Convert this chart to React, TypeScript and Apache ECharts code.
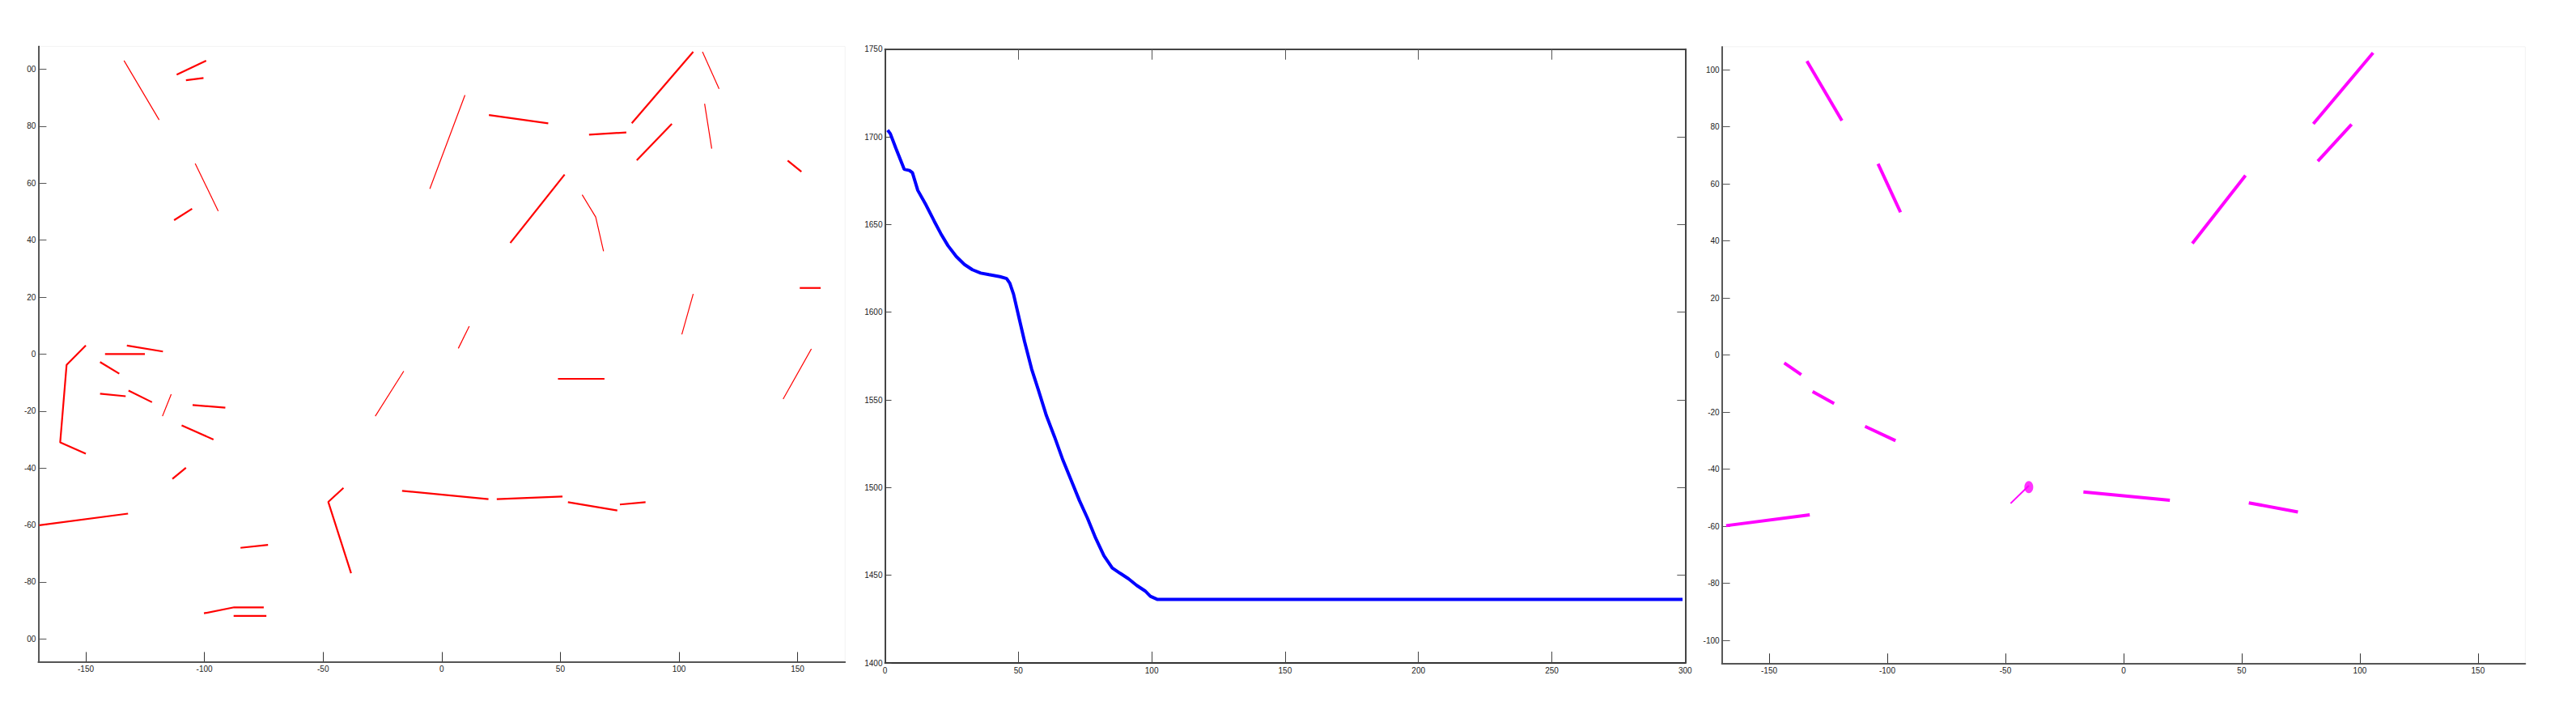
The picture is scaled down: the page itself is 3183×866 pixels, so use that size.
import React, { useEffect, useRef } from "react";
import * as echarts from "echarts";

// ---------- Panel 1: red line segments ----------
const redThinSegments: number[][][] = [
  [[-133.9, 103.0], [-119.1, 82.2]],
  [[-103.9, 66.9], [-94.2, 50.2]],
  [[-5.0, 58.0], [9.8, 90.9]],
  [[109.9, 106.1], [116.9, 93.1]],
  [[110.8, 87.9], [113.8, 72.1]],
  [[59.2, 55.9], [64.9, 48.1], [68.2, 36.1]],
  [[101.2, 6.9], [106.0, 21.1]],
  [[7.0, 2.0], [11.6, 9.8]],
  [[143.9, -15.8], [155.8, 1.8]],
  [[-117.7, -21.8], [-114.0, -14.1]],
  [[-28.0, -21.8], [-16.0, -6.0]],
];

const redThickSegments: number[][][] = [
  [[-111.7, 98.1], [-99.3, 103.0]],
  [[-107.8, 96.1], [-100.4, 96.9]],
  [[-112.8, 47.0], [-105.2, 51.0]],
  [[19.9, 83.9], [44.9, 81.0]],
  [[62.1, 77.0], [77.8, 77.8]],
  [[80.1, 81.0], [106.0, 106.1]],
  [[82.2, 68.0], [97.0, 80.8]],
  [[145.8, 67.9], [151.6, 64.0]],
  [[28.9, 39.0], [51.8, 63.0]],
  [[150.9, 23.2], [159.7, 23.2]],
  [[-150.0, 3.0], [-158.1, -3.8], [-160.8, -31.0], [-150.0, -35.0]],
  [[-141.9, 0.0], [-125.1, 0.0]],
  [[-132.7, 3.0], [-117.5, 0.9]],
  [[-144.0, -2.8], [-135.9, -6.9]],
  [[-144.0, -13.9], [-133.2, -14.8]],
  [[-132.0, -12.8], [-122.1, -16.9]],
  [[-105.0, -17.9], [-91.2, -18.8]],
  [[-109.6, -25.0], [-96.2, -30.0]],
  [[-113.5, -43.8], [-107.8, -39.9]],
  [[-169.6, -60.1], [-132.2, -56.0]],
  [[49.0, -8.7], [68.6, -8.7]],
  [[-38.2, -76.9], [-47.8, -51.9], [-41.4, -47.0]],
  [[-16.7, -48.0], [19.7, -50.9]],
  [[23.2, -50.9], [50.9, -50.0]],
  [[53.2, -52.0], [74.0, -54.9]],
  [[75.1, -52.8], [85.9, -52.0]],
  [[-84.8, -68.0], [-73.2, -67.0]],
  [[-100.2, -91.0], [-87.5, -88.9], [-75.0, -88.9]],
  [[-87.7, -91.9], [-73.9, -91.9]],
];

// ---------- Panel 2: cost curve ----------
const iterX = [
  1, 2, 4.1, 7.2, 9.2, 10.3, 12.3, 15.4, 18.5, 20.9, 23.6, 26.7, 29.8, 32.8, 35.9, 39, 43.1, 45.6,
  46.8, 48.2, 50.3, 52.3, 55, 57.5, 60.5, 63.6, 66.7, 69.8, 72.9, 75.9, 79, 82.1, 85.2, 88.2, 91.3,
  94.4, 97.5, 99.5, 102.2, 299,
];
const costY = [
  1703.8, 1701.8, 1693.4, 1681.5, 1680.8, 1679.5, 1669.5, 1661.1, 1651.8, 1644.9, 1638, 1631.8,
  1627.2, 1624.2, 1622.3, 1621.4, 1620.3, 1619.2, 1616.5, 1610.3, 1596.5, 1583.5, 1567.5, 1555.7,
  1541.1, 1528.8, 1515.7, 1504.2, 1492.6, 1482.6, 1471.1, 1461.1, 1454.2, 1451.1, 1448, 1444.2,
  1441.1, 1438, 1436.2, 1436.2,
];

// ---------- Panel 3: magenta selected segments ----------
const magentaSegments: number[][][] = [
  [[-134.0, 103.0], [-119.2, 82.1]],
  [[-103.9, 67.0], [-94.4, 50.0]],
  [[29.1, 39.1], [51.6, 62.9]],
  [[80.3, 81.0], [105.6, 105.9]],
  [[82.2, 67.9], [96.5, 80.8]],
  [[-143.6, -2.8], [-136.4, -6.9]],
  [[-131.6, -12.8], [-122.5, -17.0]],
  [[-109.4, -25.0], [-96.5, -30.0]],
  [[-168.2, -59.8], [-132.8, -56.0]],
  [[-17.0, -48.0], [19.6, -50.9]],
  [[53.0, -51.8], [73.8, -55.0]],
];
const magentaThinSegments: number[][][] = [[[-47.8, -52.0], [-40.1, -45.8]]];
const magentaDots: number[][] = [[-40.1, -46.3]];

// ---------- tick values ----------
const mapXTicks = [-150, -100, -50, 0, 50, 100, 150];
const mapYTicks = [-100, -80, -60, -40, -20, 0, 20, 40, 60, 80, 100];
const costXTicksTop = [50, 100, 150, 200, 250];
const costYTicksRight = [1450, 1500, 1550, 1600, 1650, 1700];

const FONT = "'Liberation Sans Narrow', 'Liberation Sans', Arial, sans-serif";
const labelStyle = { fontSize: 10, color: "#222", fontFamily: FONT };

function segSeries(segs: number[][][], xi: number, yi: number, color: string, width: number) {
  return segs.map((s) => ({
    type: "line",
    xAxisIndex: xi,
    yAxisIndex: yi,
    data: s,
    showSymbol: false,
    symbol: "none",
    silent: true,
    lineStyle: { color, width, cap: "butt" },
  }));
}

export default function App() {
  const ref = useRef<HTMLDivElement>(null);
  useEffect(() => {
    if (!ref.current) return;
    const chart = echarts.init(ref.current, null, { renderer: "svg" });

    const mapX = (gridIndex: number) => ({
      type: "value",
      gridIndex,
      min: -170,
      max: 170,
      position: "bottom",
      splitLine: { show: false },
      axisLine: { show: true, onZero: false, lineStyle: { color: "#555", width: 2 } },
      axisTick: {
        show: true,
        inside: true,
        length: 12,
        customValues: mapXTicks,
        lineStyle: { color: "#333", width: 1 },
      },
      axisLabel: { ...labelStyle, margin: 4, customValues: mapXTicks, formatter: (v: number) => String(v) },
    });
    const mapY = (gridIndex: number, clip: boolean) => ({
      type: "value",
      gridIndex,
      min: -108,
      max: 108,
      position: "left",
      splitLine: { show: false },
      axisLine: { show: true, onZero: false, lineStyle: { color: "#222", width: 1.5 } },
      axisTick: {
        show: true,
        inside: true,
        length: 10,
        customValues: mapYTicks,
        lineStyle: { color: "#555", width: 1 },
      },
      axisLabel: {
        ...labelStyle,
        margin: 3,
        customValues: mapYTicks,
        formatter: (v: number) => (clip && Math.abs(v) === 100 ? "00" : String(v)),
      },
    });

    const option: any = {
      animation: false,
      backgroundColor: "#ffffff",
      grid: [
        { left: 47.4, top: 57.3, width: 996.8, height: 760.2, show: true, borderColor: "#f2f2f2", borderWidth: 1, backgroundColor: "transparent" },
        { left: 1093.5, top: 60.7, width: 988.8, height: 758.3, show: false },
        { left: 2127.6, top: 57.8, width: 992.7, height: 761.5, show: true, borderColor: "#f2f2f2", borderWidth: 1, backgroundColor: "transparent" },
      ],
      xAxis: [
        mapX(0),
        {
          type: "value",
          gridIndex: 1,
          min: 0,
          max: 300,
          interval: 50,
          position: "bottom",
          splitLine: { show: false },
          axisLine: { show: true, onZero: false, lineStyle: { color: "#333", width: 2 } },
          axisTick: { show: true, inside: true, length: 14, lineStyle: { color: "#444", width: 1 } },
          axisLabel: { ...labelStyle, margin: 4, formatter: (v: number) => String(v) },
        },
        {
          type: "value",
          gridIndex: 1,
          min: 0,
          max: 300,
          position: "top",
          splitLine: { show: false },
          axisLine: { show: true, onZero: false, lineStyle: { color: "#444", width: 2 } },
          axisTick: {
            show: true,
            inside: true,
            length: 13,
            customValues: costXTicksTop,
            lineStyle: { color: "#555", width: 1 },
          },
          axisLabel: { show: false },
        },
        mapX(2),
      ],
      yAxis: [
        mapY(0, true),
        {
          type: "value",
          gridIndex: 1,
          min: 1400,
          max: 1750,
          interval: 50,
          position: "left",
          splitLine: { show: false },
          axisLine: { show: true, onZero: false, lineStyle: { color: "#444", width: 2 } },
          axisTick: { show: true, inside: true, length: 8, lineStyle: { color: "#444", width: 1 } },
          axisLabel: { ...labelStyle, margin: 3, formatter: (v: number) => String(v) },
        },
        {
          type: "value",
          gridIndex: 1,
          min: 1400,
          max: 1750,
          position: "right",
          splitLine: { show: false },
          axisLine: { show: true, onZero: false, lineStyle: { color: "#444", width: 2 } },
          axisTick: {
            show: true,
            inside: true,
            length: 10,
            customValues: costYTicksRight,
            lineStyle: { color: "#555", width: 1 },
          },
          axisLabel: { show: false },
        },
        mapY(2, false),
      ],
      series: [
        ...segSeries(redThinSegments, 0, 0, "#ff0000", 1.2),
        ...segSeries(redThickSegments, 0, 0, "#ff0000", 2.2),
        {
          type: "line",
          xAxisIndex: 1,
          yAxisIndex: 1,
          data: iterX.map((x, i) => [x, costY[i]]),
          showSymbol: false,
          symbol: "none",
          silent: true,
          lineStyle: { color: "#0000ff", width: 4 },
        },
        ...segSeries(magentaSegments, 3, 3, "#ff00ff", 4),
        ...segSeries(magentaThinSegments, 3, 3, "#ff00ff", 2),
        {
          type: "scatter",
          xAxisIndex: 3,
          yAxisIndex: 3,
          data: magentaDots,
          symbol: "circle",
          symbolSize: [11, 15],
          silent: true,
          itemStyle: { color: "#ff00ff" },
        },
      ],
    };
    chart.setOption(option);
    return () => chart.dispose();
  }, []);

  return (
    <div
      ref={ref}
      style={{ position: "absolute", left: 0, top: 0, width: 3183, height: 866, background: "#fff" }}
    />
  );
}
